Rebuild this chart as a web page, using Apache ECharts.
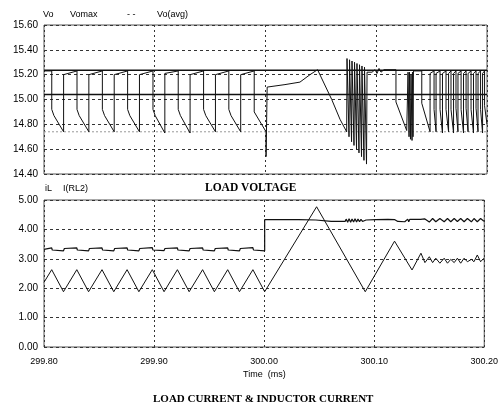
<!DOCTYPE html>
<html>
<head>
<meta charset="utf-8">
<script src="https://cdn.jsdelivr.net/npm/echarts@6/dist/echarts.min.js"></script>
<style>
  html, body { margin: 0; padding: 0; background: #fff; }
  #c { width: 501px; height: 407px; }
</style>
</head>
<body>
<div id="c"></div>
<script>
// Time window (ms)
const timeMin = 299.8;
const timeMax = 300.2;

// Output voltage Vo (V) as [time ms, volts]
const vo = [
  [299.8000, 15.23],
  [299.8070, 15.23], [299.8070, 14.92], [299.8090, 14.87], [299.8177, 14.74], [299.8177, 15.20],
  [299.8298, 15.23], [299.8298, 14.92], [299.8318, 14.87], [299.8405, 14.74], [299.8405, 15.20],
  [299.8527, 15.23], [299.8527, 14.92], [299.8547, 14.87], [299.8634, 14.74], [299.8634, 15.20],
  [299.8755, 15.23], [299.8755, 14.92], [299.8775, 14.87], [299.8862, 14.74], [299.8862, 15.20],
  [299.8984, 15.23], [299.8984, 14.92], [299.9004, 14.87], [299.9091, 14.73], [299.9091, 15.21],
  [299.9212, 15.23], [299.9212, 14.92], [299.9232, 14.87], [299.9319, 14.73], [299.9319, 15.20],
  [299.9441, 15.23], [299.9441, 14.92], [299.9461, 14.87], [299.9548, 14.74], [299.9548, 15.20],
  [299.9669, 15.23], [299.9669, 14.92], [299.9689, 14.87], [299.9776, 14.74], [299.9776, 15.20],
  [299.9898, 15.23], [299.9898, 14.90], [300.0005, 14.74], [300.0005, 14.54], [300.0015, 15.10],
  [300.0176, 15.12], [300.0311, 15.14], [300.0402, 15.20], [300.0470, 15.24],
  [300.0598, 15.00], [300.0673, 14.84], [300.0733, 14.74],
  [300.0736, 15.33], [300.0754, 14.70], [300.0759, 15.32], [300.0777, 14.66],
  [300.0781, 15.31], [300.0799, 14.63], [300.0804, 15.30], [300.0822, 14.60],
  [300.0826, 15.29], [300.0844, 14.57], [300.0849, 15.28], [300.0867, 14.54],
  [300.0871, 15.27], [300.0889, 14.51], [300.0894, 15.26], [300.0912, 14.48],
  [300.0917, 15.22],
  [300.0962, 15.22], [300.0989, 15.24], [300.1007, 15.21], [300.1025, 15.25],
  [300.1043, 15.22], [300.1070, 15.24], [300.1178, 15.24], [300.1178, 14.98],
  [300.1275, 14.75],
  [300.1287, 15.22], [300.1296, 14.70], [300.1300, 15.22], [300.1309, 14.68],
  [300.1314, 15.20], [300.1323, 14.67], [300.1327, 15.22], [300.1332, 14.70],
  [300.1336, 15.23],
  [300.1411, 15.23], [300.1411, 14.97], [300.1486, 14.74], [300.1486, 15.21],
  [300.1522, 15.23], [300.1522, 14.92], [300.1540, 14.74], [300.1540, 15.21],
  [300.1576, 15.23], [300.1576, 14.92], [300.1598, 14.73], [300.1598, 15.21],
  [300.1630, 15.23], [300.1630, 14.92], [300.1653, 14.74], [300.1653, 15.21],
  [300.1675, 15.23], [300.1675, 14.92], [300.1698, 14.73], [300.1698, 15.21],
  [300.1720, 15.23], [300.1720, 14.93], [300.1738, 14.74], [300.1738, 15.21],
  [300.1766, 15.23], [300.1766, 14.92], [300.1788, 14.73], [300.1788, 15.21],
  [300.1811, 15.23], [300.1811, 14.93], [300.1829, 14.74], [300.1829, 15.21],
  [300.1856, 15.23], [300.1856, 14.92], [300.1878, 14.73], [300.1878, 15.21],
  [300.1901, 15.23], [300.1901, 14.93], [300.1919, 14.74], [300.1919, 15.21],
  [300.1942, 15.23], [300.1942, 14.92], [300.1960, 14.73], [300.1960, 15.21],
  [300.1978, 15.23], [300.1978, 14.95], [300.2000, 14.80]
];

// Reference levels (V)
const voMax = 15.235;
const voAvg = 15.04;
const voMin = 14.74;

// Inductor current iL (A)
const iL = [
  [299.8000, 2.20],
  [299.8070, 2.63], [299.8177, 1.88], [299.8298, 2.63], [299.8405, 1.88],
  [299.8527, 2.63], [299.8634, 1.88], [299.8755, 2.63], [299.8862, 1.88],
  [299.8984, 2.63], [299.9091, 1.88], [299.9212, 2.63], [299.9319, 1.88],
  [299.9441, 2.63], [299.9548, 1.88], [299.9669, 2.63], [299.9776, 1.88],
  [299.9898, 2.63], [300.0005, 1.88],
  [300.0477, 4.77], [300.0919, 1.88], [300.1185, 3.60], [300.1344, 2.62],
  [300.1425, 3.19], [300.1461, 2.87], [300.1501, 3.07], [300.1531, 2.87],
  [300.1560, 3.02], [300.1597, 2.85], [300.1636, 3.02], [300.1666, 2.85],
  [300.1696, 2.98], [300.1727, 2.87], [300.1756, 3.02], [300.1786, 2.85],
  [300.1817, 3.02], [300.1847, 2.90], [300.1883, 2.98], [300.1907, 2.90],
  [300.1937, 3.13], [300.1967, 2.90], [300.1997, 3.02]
];

// Load current I(RL2) (A)
const iLoad = [
  [299.8000, 3.32],
  [299.8070, 3.37], [299.8075, 3.30], [299.8177, 3.27], [299.8185, 3.35],
  [299.8298, 3.37], [299.8303, 3.30], [299.8405, 3.27], [299.8413, 3.35],
  [299.8527, 3.37], [299.8532, 3.30], [299.8634, 3.27], [299.8642, 3.35],
  [299.8755, 3.37], [299.8760, 3.30], [299.8862, 3.27], [299.8870, 3.35],
  [299.8984, 3.38], [299.8989, 3.30], [299.9091, 3.28], [299.9099, 3.35],
  [299.9212, 3.37], [299.9217, 3.30], [299.9319, 3.27], [299.9327, 3.35],
  [299.9441, 3.37], [299.9446, 3.30], [299.9548, 3.27], [299.9556, 3.35],
  [299.9669, 3.37], [299.9674, 3.30], [299.9776, 3.27], [299.9784, 3.35],
  [299.9898, 3.38], [299.9903, 3.30], [300.0005, 3.27], [300.0005, 4.33],
  [300.0311, 4.33], [300.0470, 4.32], [300.0610, 4.27], [300.0736, 4.27],
  [300.0745, 4.35], [300.0759, 4.24], [300.0772, 4.36], [300.0786, 4.24],
  [300.0799, 4.35], [300.0813, 4.25], [300.0826, 4.36], [300.0840, 4.25],
  [300.0853, 4.35], [300.0867, 4.26], [300.0880, 4.34], [300.0894, 4.27],
  [300.0907, 4.33], [300.0926, 4.32], [300.1016, 4.33], [300.1124, 4.34],
  [300.1188, 4.33], [300.1215, 4.27], [300.1278, 4.26], [300.1296, 4.25],
  [300.1305, 4.35], [300.1314, 4.26], [300.1323, 4.34], [300.1341, 4.32],
  [300.1422, 4.34], [300.1458, 4.36],
  [300.1501, 4.25], [300.1531, 4.37], [300.1560, 4.26], [300.1597, 4.37],
  [300.1636, 4.26], [300.1666, 4.37], [300.1696, 4.26], [300.1727, 4.37],
  [300.1756, 4.27], [300.1786, 4.37], [300.1817, 4.26], [300.1847, 4.37],
  [300.1883, 4.26], [300.1907, 4.37], [300.1937, 4.26], [300.1967, 4.37],
  [300.1997, 4.28]
];

// Panel labels
const topLabels = ['Vo', 'Vomax', '- -', 'Vo(avg)'];
const bottomLabels = ['iL', 'I(RL2)'];
const topTitle = 'LOAD VOLTAGE';
const bottomTitle = 'LOAD CURRENT & INDUCTOR CURRENT';
const xName = 'Time  (ms)';

const sans = 'Liberation Sans';

const chart = echarts.init(document.getElementById('c'), null, { renderer: 'canvas' });

const gridDash = { type: [3, 3], color: '#333', width: 1 };
const vDash = { type: [2, 3], color: '#333', width: 1 };

function xAxisCfg(idx, showLabels) {
  return {
    type: 'value', gridIndex: idx, min: timeMin, max: timeMax, interval: 0.1,
    axisLine: { show: false }, axisTick: { show: false },
    axisLabel: {
      show: showLabels, color: '#000', fontFamily: sans, fontSize: 9, margin: 10,
      formatter: v => v.toFixed(2)
    },
    splitLine: { show: true, lineStyle: vDash }
  };
}
function yAxisCfg(idx, min, max, step) {
  return {
    type: 'value', gridIndex: idx, min: min, max: max, interval: step,
    axisLine: { show: false }, axisTick: { show: false },
    axisLabel: { color: '#000', fontFamily: sans, fontSize: 10, margin: 6, formatter: v => v.toFixed(2) },
    splitLine: { show: true, lineStyle: gridDash }
  };
}
const flat = (level) => [[timeMin, level], [timeMax, level]];
const lineS = (xi, yi, data, style) => ({
  type: 'line', xAxisIndex: xi, yAxisIndex: yi, data: data,
  showSymbol: false, symbol: 'none', animation: false, silent: true,
  lineStyle: style
});

const txt = (x, y, s, font) => ({
  type: 'text', left: x, top: y,
  style: { text: s, fill: '#000', font: font }
});
const small = '9px "Liberation Sans"';

chart.setOption({
  animation: false,
  backgroundColor: '#fff',
  grid: [
    { left: 44, top: 25, width: 443, height: 149, show: true, borderColor: '#555', borderWidth: 1 },
    { left: 44, top: 200, width: 443, height: 147, show: true, borderColor: '#555', borderWidth: 1 }
  ],
  xAxis: [xAxisCfg(0, false), xAxisCfg(1, true)],
  yAxis: [yAxisCfg(0, 14.4, 15.6, 0.2), yAxisCfg(1, 0, 5, 1)],
  series: [
    lineS(0, 0, flat(voMin), { color: '#999', width: 1, type: [2, 2] }),
    lineS(0, 0, flat(voMax), { color: '#111', width: 1.5 }),
    lineS(0, 0, flat(voAvg), { color: '#111', width: 1.5 }),
    lineS(0, 0, vo, { color: '#111', width: 1 }),
    lineS(1, 1, iLoad, { color: '#111', width: 1.2 }),
    lineS(1, 1, iL, { color: '#111', width: 1 })
  ],
  graphic: [
    txt(43, 10, topLabels[0], small),
    txt(70, 10, topLabels[1], small),
    txt(127, 10, topLabels[2], small),
    txt(157, 10, topLabels[3], small),
    txt(45, 184, bottomLabels[0], small),
    txt(63, 184, bottomLabels[1], small),
    txt(205, 182, topTitle, 'bold 11.5px "Liberation Serif"'),
    txt(243, 370, xName, small),
    txt(153, 394, bottomTitle, 'bold 11px "Liberation Serif"')
  ]
});
</script>
</body>
</html>
